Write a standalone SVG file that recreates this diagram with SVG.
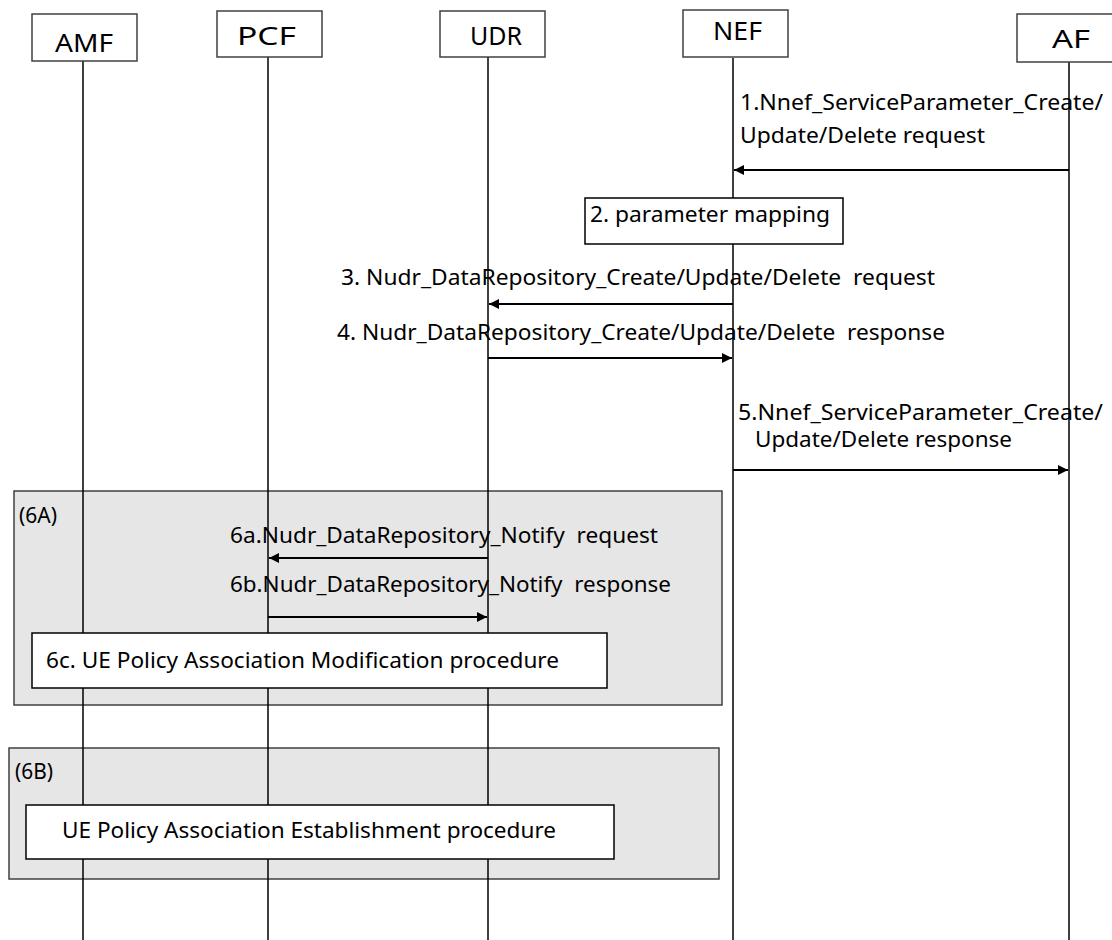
<svg xmlns="http://www.w3.org/2000/svg" width="1112" height="940" viewBox="0 0 1112 940">
<defs>
<marker id="ah" viewBox="0 0 10 10" refX="10" refY="5" markerWidth="10" markerHeight="10" markerUnits="userSpaceOnUse" orient="auto">
<path d="M0,0 L10,5 L0,10 z" fill="#000"/>
</marker>
<style>
.nb{fill:#fff;stroke:#404040;stroke-width:1.5}
.life{stroke:#000;stroke-width:1.5}
.msg{stroke:#000;stroke-width:2;marker-end:url(#ah)}
.t{font-family:"Noto Sans","Open Sans",sans-serif;font-size:21px;fill:#000;white-space:pre}
.nt{font-family:"Noto Sans","Open Sans",sans-serif;font-size:26px;fill:#000}
.grp{fill:#e6e6e6;stroke:#404040;stroke-width:1.5}
.box{fill:#fff;stroke:#000;stroke-width:1.5}
</style>
</defs>
<rect width="1112" height="940" fill="#fff"/>

<g id="group-6A">
<rect class="grp" x="14" y="491" width="708" height="214"/>
<text class="t" x="19" y="523" textLength="38" lengthAdjust="spacingAndGlyphs" style="font-size:22px">(6A)</text>
</g>
<g id="group-6B">
<rect class="grp" x="9" y="748" width="710" height="131"/>
<text class="t" x="15" y="779" textLength="38" lengthAdjust="spacingAndGlyphs" style="font-size:22px">(6B)</text>
</g>

<g id="lifelines">
<line class="life" x1="83" y1="61" x2="83" y2="940"/>
<line class="life" x1="268" y1="57" x2="268" y2="940"/>
<line class="life" x1="488" y1="57" x2="488" y2="940"/>
<line class="life" x1="733" y1="58" x2="733" y2="940"/>
<line class="life" x1="1069" y1="62" x2="1069" y2="940"/>
</g>

<g id="AMF">
<rect class="nb" x="32" y="14" width="105" height="47"/>
<text class="nt" x="55" y="52" textLength="58" lengthAdjust="spacingAndGlyphs">AMF</text>
</g>
<g id="PCF">
<rect class="nb" x="217" y="11" width="105" height="46"/>
<text class="nt" x="237" y="45" textLength="59" lengthAdjust="spacingAndGlyphs">PCF</text>
</g>
<g id="UDR">
<rect class="nb" x="440" y="11" width="105" height="46"/>
<text class="nt" x="470" y="45" textLength="52" lengthAdjust="spacingAndGlyphs">UDR</text>
</g>
<g id="NEF">
<rect class="nb" x="683" y="10" width="105" height="47"/>
<text class="nt" x="713" y="40" textLength="49" lengthAdjust="spacingAndGlyphs">NEF</text>
</g>
<g id="AF">
<rect class="nb" x="1017" y="14" width="100" height="48"/>
<text class="nt" x="1052" y="48" textLength="38" lengthAdjust="spacingAndGlyphs">AF</text>
</g>

<g id="step2">
<rect class="box" x="585" y="198" width="258" height="46"/>
<text class="t" x="590" y="222" textLength="240" lengthAdjust="spacingAndGlyphs">2. parameter mapping</text>
</g>
<g id="step6c">
<rect class="box" x="32" y="633" width="575" height="55"/>
<text class="t" x="46" y="668" textLength="513" lengthAdjust="spacingAndGlyphs">6c. UE Policy Association Modification procedure</text>
</g>
<g id="step6B">
<rect class="box" x="26" y="805" width="588" height="54"/>
<text class="t" x="62" y="838" textLength="494" lengthAdjust="spacingAndGlyphs">UE Policy Association Establishment procedure</text>
</g>

<g id="connectors">
<line class="msg" x1="1069" y1="170" x2="734" y2="170"/>
<line class="msg" x1="733" y1="304" x2="489" y2="304"/>
<line class="msg" x1="488" y1="358" x2="732" y2="358"/>
<line class="msg" x1="733" y1="470" x2="1068" y2="470"/>
<line class="msg" x1="488" y1="558" x2="269" y2="558"/>
<line class="msg" x1="268" y1="617" x2="487" y2="617"/>
</g>

<g id="labels">
<text class="t" x="740" y="110" textLength="363" lengthAdjust="spacingAndGlyphs">1.Nnef_ServiceParameter_Create/</text>
<text class="t" x="740" y="143" textLength="245" lengthAdjust="spacingAndGlyphs">Update/Delete request</text>
<text class="t" x="341" y="285" textLength="594" lengthAdjust="spacingAndGlyphs">3. Nudr_DataRepository_Create/Update/Delete  request</text>
<text class="t" x="337" y="340" textLength="608" lengthAdjust="spacingAndGlyphs">4. Nudr_DataRepository_Create/Update/Delete  response</text>
<text class="t" x="738" y="420" textLength="365" lengthAdjust="spacingAndGlyphs">5.Nnef_ServiceParameter_Create/</text>
<text class="t" x="755" y="447" textLength="257" lengthAdjust="spacingAndGlyphs">Update/Delete response</text>
<text class="t" x="230" y="543" textLength="428" lengthAdjust="spacingAndGlyphs">6a.Nudr_DataRepository_Notify  request</text>
<text class="t" x="230" y="592" textLength="441" lengthAdjust="spacingAndGlyphs">6b.Nudr_DataRepository_Notify  response</text>
</g>
</svg>
